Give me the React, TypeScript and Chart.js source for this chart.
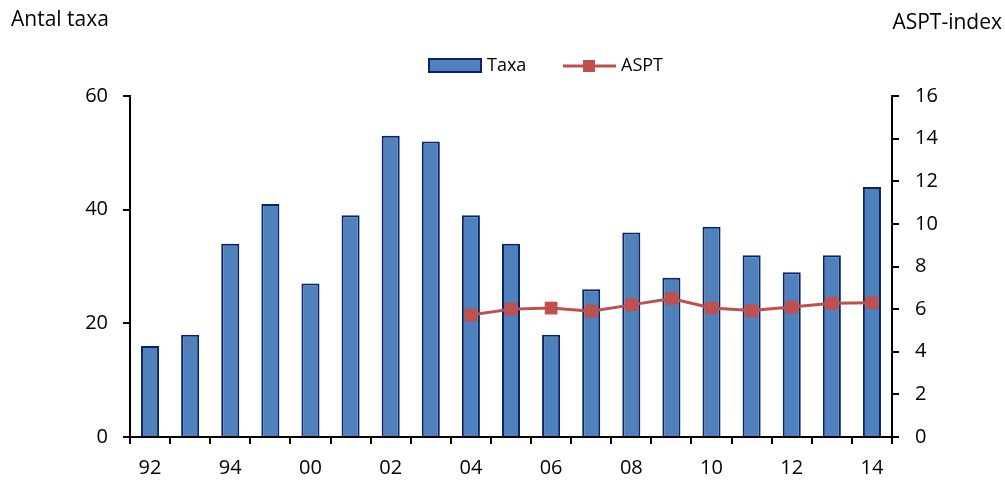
import React, { useEffect, useRef } from "react";
import { Chart, registerables } from "chart.js";

Chart.register(...registerables);

const categories = ["92", "93", "94", "95", "00", "01", "02", "03", "04", "05", "06", "07", "08", "09", "10", "11", "12", "13", "14"];
const taxaValues = [16, 18, 34, 41, 27, 39, 53, 52, 39, 34, 18, 26, 36, 28, 37, 32, 29, 32, 44];
const asptValues = [null, null, null, null, null, null, null, null, 5.72, 6.0, 6.05, 5.9, 6.2, 6.5, 6.05, 5.93, 6.1, 6.27, 6.3];
const leftTicks = [0, 20, 40, 60];
const rightTicks = [0, 2, 4, 6, 8, 10, 12, 14, 16];

const FONT = "'Open Sans', sans-serif";
const BAR_FILL = "#4F81BD";
const BAR_EDGE = "#0A2366";
const LINE_COLOR = "#C0504D";

const overlayPlugin = {
  id: "overlay",
  afterDraw(chart: any) {
    const ctx = chart.ctx;
    ctx.save();
    ctx.fillStyle = "#000";
    ctx.font = `21px ${FONT}`;
    ctx.textBaseline = "alphabetic";
    ctx.textAlign = "left";
    ctx.fillText("Antal taxa", 11, 26);
    ctx.textAlign = "right";
    ctx.fillText("ASPT-index", 1002, 29);

    // legend
    ctx.font = `18px ${FONT}`;
    ctx.textAlign = "left";
    ctx.textBaseline = "middle";
    ctx.fillStyle = BAR_FILL;
    ctx.fillRect(429, 59, 52, 13);
    ctx.strokeStyle = BAR_EDGE;
    ctx.lineWidth = 2;
    ctx.strokeRect(429, 59, 52, 13);
    ctx.fillStyle = "#000";
    ctx.fillText("Taxa", 487, 66);

    ctx.strokeStyle = LINE_COLOR;
    ctx.lineWidth = 3;
    ctx.beginPath();
    ctx.moveTo(563, 66);
    ctx.lineTo(616, 66);
    ctx.stroke();
    ctx.fillStyle = LINE_COLOR;
    ctx.fillRect(583, 60, 12, 12);
    ctx.fillStyle = "#000";
    ctx.fillText("ASPT", 621, 66);
    ctx.restore();
  },
};

export default function App() {
  const ref = useRef<HTMLCanvasElement>(null);
  useEffect(() => {
    if (!ref.current) return;
    const chart = new Chart(ref.current, {
      type: "bar",
      data: {
        labels: categories,
        datasets: [
          {
            type: "line",
            label: "ASPT",
            data: asptValues,
            yAxisID: "y2",
            borderColor: LINE_COLOR,
            backgroundColor: LINE_COLOR,
            borderWidth: 3,
            pointStyle: "rect",
            pointRadius: 9,
            pointBorderWidth: 0,
            pointBackgroundColor: LINE_COLOR,
            order: 0,
          } as any,
          {
            type: "bar",
            label: "Taxa",
            data: taxaValues,
            yAxisID: "y",
            backgroundColor: BAR_FILL,
            borderColor: BAR_EDGE,
            borderWidth: 2,
            barPercentage: 0.45,
            categoryPercentage: 1,
            order: 1,
          },
        ],
      },
      options: {
        animation: false,
        responsive: false,
        maintainAspectRatio: false,
        layout: { padding: { top: 96, left: 0, right: 0, bottom: 0 } },
        plugins: { legend: { display: false }, tooltip: { enabled: false } },
        scales: {
          x: {
            offset: true,
            grid: { offset: true, drawOnChartArea: false, drawTicks: true, tickLength: 7, color: "#000", lineWidth: 2 },
            border: { display: true, color: "#000", width: 2 },
            ticks: {
              autoSkip: false,
              maxRotation: 0,
              padding: 12,
              color: "#000",
              font: { family: FONT, size: 20 },
              callback: (_v: any, i: number) => (i % 2 === 0 ? categories[i] : ""),
            },
            afterFit: (s: any) => { s.height = 44; },
          },
          y: {
            position: "left",
            min: 0,
            max: 60,
            afterBuildTicks: (s: any) => { s.ticks = leftTicks.map((v) => ({ value: v })); },
            grid: { drawOnChartArea: false, drawTicks: true, tickLength: 7, color: "#000", lineWidth: 2 },
            border: { display: true, color: "#000", width: 2 },
            ticks: { color: "#000", padding: 15, font: { family: FONT, size: 20 } },
            afterFit: (s: any) => { s.width = 130; },
          },
          y2: {
            position: "right",
            min: 0,
            max: 16,
            afterBuildTicks: (s: any) => { s.ticks = rightTicks.map((v) => ({ value: v })); },
            grid: { drawOnChartArea: false, drawTicks: true, tickLength: 7, color: "#000", lineWidth: 2 },
            border: { display: true, color: "#000", width: 2 },
            ticks: { color: "#000", padding: 16, font: { family: FONT, size: 20 } },
            afterFit: (s: any) => { s.width = 113; },
          },
        },
      },
      plugins: [overlayPlugin],
    });
    return () => chart.destroy();
  }, []);
  return (
    <div style={{ position: "absolute", left: 0, top: 0, width: 1005, height: 481, background: "#fff" }}>
      <canvas ref={ref} width={1005} height={481} style={{ width: 1005, height: 481 }} />
    </div>
  );
}
